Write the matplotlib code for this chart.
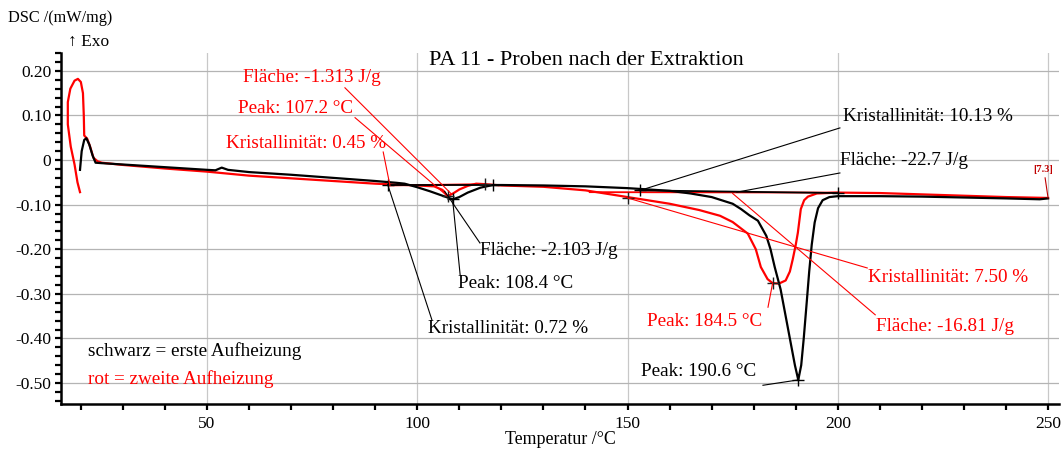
import matplotlib
matplotlib.use("Agg")
import matplotlib.pyplot as plt
from matplotlib.ticker import MultipleLocator

plt.rcParams['font.family'] = ['Liberation Serif', 'DejaVu Serif']
plt.rcParams['axes.unicode_minus'] = False

# ---------------- data ----------------
black_T = [19.8, 20.2, 20.8, 21.3, 22.0, 22.8, 23.5, 25, 30, 35, 40, 45, 50, 52, 53.5, 55,
           60, 70, 80, 90, 95, 97, 100, 103, 106, 108.4, 110, 112, 115, 118, 120, 130, 140,
           150, 155, 160, 165, 170, 175, 177, 179, 181, 183, 184, 185, 186.4, 187.6, 188.8,
           189.8, 190.6, 191.3, 191.9, 192.6, 193.2, 193.8, 194.5, 195.3, 196.4, 198, 200,
           210, 220, 230, 240, 248, 250]
black_dsc = [-0.022, 0.020, 0.045, 0.049, 0.035, 0.010, -0.006, -0.007, -0.010, -0.013,
             -0.016, -0.019, -0.022, -0.023, -0.017, -0.022, -0.027, -0.033, -0.040, -0.047,
             -0.051, -0.053, -0.061, -0.070, -0.080, -0.088, -0.083, -0.073, -0.062, -0.056,
             -0.056, -0.057, -0.059, -0.063, -0.066, -0.069, -0.075, -0.083, -0.098, -0.110,
             -0.124, -0.136, -0.170, -0.200, -0.240, -0.290, -0.350, -0.410, -0.460, -0.493,
             -0.460, -0.400, -0.320, -0.250, -0.190, -0.140, -0.108, -0.090, -0.083, -0.081,
             -0.081, -0.082, -0.084, -0.086, -0.088, -0.086]

red_T = [19.8, 19.2, 18.5, 17.6, 16.9, 16.9, 17.5, 18.5, 19.3, 20.0, 20.5, 20.7, 20.8, 21.5,
         22.2, 23, 24, 25, 30, 40, 50, 60, 70, 80, 90, 100, 104, 106, 107.2, 108.5, 110, 112,
         114, 116, 120, 130, 140, 150, 160, 167, 172, 175, 178.6, 180.5, 181.7, 183.3, 184.5,
         186, 187.6, 188.6, 189.3, 190, 190.5, 191.2, 192, 192.9, 195, 200, 210, 220, 230,
         240, 250]
red_dsc = [-0.072, -0.050, -0.010, 0.030, 0.080, 0.130, 0.160, 0.178, 0.182, 0.175, 0.150,
           0.100, 0.055, 0.048, 0.030, 0.005, -0.003, -0.006, -0.011, -0.019, -0.026, -0.035,
           -0.041, -0.047, -0.053, -0.057, -0.059, -0.067, -0.081, -0.075, -0.066, -0.058,
           -0.053, -0.054, -0.057, -0.060, -0.068, -0.083, -0.098, -0.112, -0.125, -0.139,
           -0.165, -0.200, -0.240, -0.267, -0.276, -0.277, -0.270, -0.250, -0.222, -0.190,
           -0.163, -0.110, -0.090, -0.082, -0.075, -0.073, -0.074, -0.077, -0.080, -0.083,
           -0.085]

# integration baselines (start/end points) and markers
black_base1_T = [93, 118]
black_base1_dsc = [-0.056, -0.056]
black_base2_T = [153, 200]
black_base2_dsc = [-0.068, -0.074]
red_base1_T = [93.5, 116]
red_base1_dsc = [-0.057, -0.054]
red_base2_T = [141, 200]
red_base2_dsc = [-0.072, -0.073]

black_mark_T = [93, 118, 153, 200, 108.4, 190.6]
black_mark_dsc = [-0.056, -0.056, -0.068, -0.074, -0.088, -0.493]
red_mark_T = [116, 150, 107.2, 184.5]
red_mark_dsc = [-0.054, -0.085, -0.081, -0.276]

# annotations: text, text position (T, dsc), leader start, leader end, colour
ann_text = ["Fläche: -1.313 J/g", "Peak: 107.2 °C", "Kristallinität: 0.45 %",
            "Kristallinität: 10.13 %", "Fläche: -22.7 J/g",
            "Fläche: -2.103 J/g", "Peak: 108.4 °C", "Kristallinität: 0.72 %",
            "Kristallinität: 7.50 %", "Fläche: -16.81 J/g", "Peak: 184.5 °C",
            "Peak: 190.6 °C"]
ann_pos = [(58.6, 0.184), (57.4, 0.115), (54.5, 0.038),
           (201.2, 0.097), (200.5, 0.000),
           (114.9, -0.202), (109.7, -0.276), (102.6, -0.377),
           (207.2, -0.264), (209.1, -0.374), (154.6, -0.361),
           (153.2, -0.475)]
ann_from = [(82.8, 0.162), (85.2, 0.095), (91.9, 0.018),
            (200.5, 0.072), (200.5, -0.029),
            (114.9, -0.186), (110.2, -0.258), (103.5, -0.359),
            (207.0, -0.242), (208.9, -0.347), (183.4, -0.330),
            (182.2, -0.505)]
ann_to = [(108.0, -0.075), (107.2, -0.081), (93.5, -0.057),
          (153, -0.068), (176, -0.072),
          (106.5, -0.070), (108.4, -0.088), (93, -0.056),
          (150, -0.085), (175, -0.075), (184.5, -0.276),
          (190.6, -0.493)]
ann_color = ['red', 'red', 'red', 'black', 'black', 'black', 'black', 'black',
             'red', 'red', 'red', 'black']

x_ticks = [50, 100, 150, 200, 250]
y_ticks = [0.20, 0.10, 0.0, -0.10, -0.20, -0.30, -0.40, -0.50]
y_labels = ["0.20", "0.10", "0", "-0.10", "-0.20", "-0.30", "-0.40", "-0.50"]

# ---------------- figure ----------------
fig = plt.figure(figsize=(10.64, 4.55), dpi=100)
ax = fig.add_axes([61 / 1064, 1 - 404 / 455, (1059 - 61) / 1064, (404 - 53) / 455])
ax.set_xlim(15.28, 252.6)
ax.set_ylim(-0.547, 0.240)

for t in x_ticks:
    ax.axvline(t, color='#c8c8c8', lw=0.9, zorder=0)
for v in y_ticks:
    ax.axhline(v, color='#b4b4b4', lw=0.9, zorder=0)

ax.plot(red_T, red_dsc, color='red', lw=1.6, zorder=3)
ax.plot(black_T, black_dsc, color='black', lw=1.6, zorder=4)
ax.plot(black_base1_T, black_base1_dsc, color='black', lw=1.3, zorder=4)
ax.plot(black_base2_T, black_base2_dsc, color='black', lw=1.3, zorder=4)
ax.plot(red_base1_T, red_base1_dsc, color='red', lw=1.3, zorder=3)
ax.plot(red_base2_T, red_base2_dsc, color='red', lw=1.3, zorder=3)
ax.plot(black_mark_T, black_mark_dsc, ls='none', marker='+', ms=9, mew=1.0, color='black', zorder=5)
ax.plot(red_mark_T, red_mark_dsc, ls='none', marker='+', ms=9, mew=1.0, color='#202020', zorder=5)

for txt, pos, a, b, c in zip(ann_text, ann_pos, ann_from, ann_to, ann_color):
    ax.text(pos[0], pos[1], txt, color=c, fontsize=13.8, ha='left', va='center', zorder=6)
    ax.plot([a[0], b[0]], [a[1], b[1]], color=c, lw=0.8, zorder=5)

ax.text(246.4, -0.022, "[7.3]", color='#c00000', fontsize=7.5, fontweight='bold',
        ha='left', va='center', zorder=6)
ax.plot([249.3, 250.0], [-0.040, -0.085], color='#c00000', lw=0.8, zorder=5)

ax.text(140.1, 0.224, "PA 11 - Proben nach der Extraktion", fontsize=16,
        ha='center', va='center', zorder=6)
ax.text(21.7, -0.428, "schwarz = erste Aufheizung", color='black', fontsize=13.8,
        ha='left', va='center')
ax.text(21.7, -0.491, "rot = zweite Aufheizung", color='red', fontsize=13.8,
        ha='left', va='center')

# axes styling
for s in ['top', 'right']:
    ax.spines[s].set_visible(False)
for s in ['left', 'bottom']:
    ax.spines[s].set_linewidth(1.8)
ax.set_xticks(x_ticks)
ax.xaxis.set_minor_locator(MultipleLocator(10))
ax.set_yticks(y_ticks)
ax.set_yticklabels(y_labels)
ax.yaxis.set_minor_locator(MultipleLocator(0.02))
ax.tick_params(which='both', direction='out', length=4, width=1.6, pad=3)
ax.tick_params(axis='x', labelsize=12.5, pad=5)
ax.tick_params(axis='y', labelsize=12.5)

fig.text(560 / 1064, 1 - 440 / 455, "Temperatur /°C", fontsize=12.9, ha='center', va='center')
fig.text(8 / 1064, 1 - 18 / 455, "DSC /(mW/mg)", fontsize=11.7, ha='left', va='center')
fig.text(68 / 1064, 1 - 42 / 455, "↑ Exo", fontsize=12.5, ha='left', va='center')

fig.savefig("out.png", dpi=100)
